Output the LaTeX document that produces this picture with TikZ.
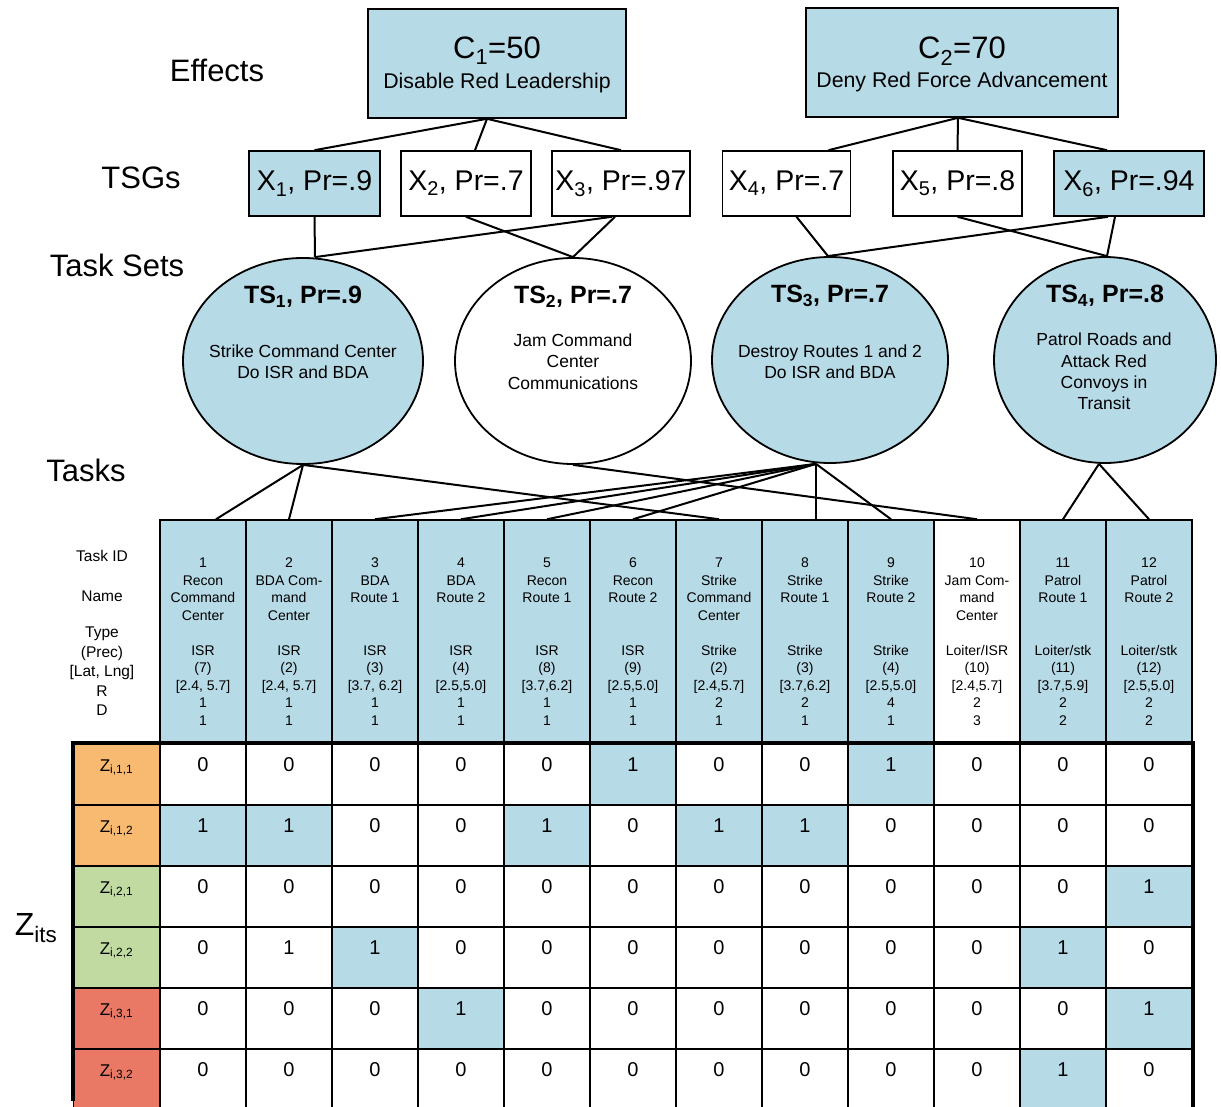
\documentclass[tikz,border=0pt]{standalone}
\usepackage{fontspec}
\setmainfont{Liberation Sans}
\usetikzlibrary{shapes.geometric,calc}

\definecolor{tblue}{RGB}{183,218,231}
\definecolor{zorange}{RGB}{247,186,112}
\definecolor{zgreen}{RGB}{193,218,162}
\definecolor{zred}{RGB}{233,121,101}

\newcommand{\fsz}[2]{\fontsize{#1}{#2}\selectfont}

% one task column of the header: index, fill, stacked text
\newcommand{\taskcol}[3]{%
  \node[taskhead, fill=#2] (T#1) at ({117+86*#1},631.5) {};
  \node[headtext] (T#1t) at ([yshift=-10pt]T#1.center) {#3};
}

% one row of the Z matrix: row index, label, label colour, k/value/fill list
\newcommand{\zrow}[4]{%
  \node[zcell, fill=#3] (zl#1) at (116.5,{774.5+61*(#1-1)}) {};
  \node[zname] (zn#1) at ([yshift=-24pt]zl#1.north) {#2};
  \foreach \k/\v/\f in {#4} {
    \node[zcell, fill=\f] (z#1-\k) at ({117+86*\k},{774.5+61*(#1-1)}) {};
    \node[zval] (zv#1-\k) at ([yshift=-21pt]z#1-\k.north) {\v};
  }
}

\begin{document}
\begin{tikzpicture}[x=1pt,y=-1pt,
  lbl/.style={font=\fsz{31}{36}, inner sep=0pt},
  effbox/.style={draw, line width=1.6pt, fill=tblue, inner sep=0pt},
  efftitle/.style={font=\fsz{31}{35}, inner sep=0pt},
  effsub/.style={font=\fsz{21.3}{25}, inner sep=0pt},
  tsgbox/.style={draw, line width=1.6pt, inner sep=0pt, minimum height=65pt},
  tsgtext/.style={font=\fsz{28.5}{32}, inner sep=0pt},
  tsell/.style={draw, ellipse, line width=1.8pt, inner sep=0pt, minimum height=206pt},
  tstitle/.style={font=\bfseries\fsz{25}{28}, inner sep=0pt},
  tsbody/.style={font=\fsz{17.5}{21.3}, align=center, inner sep=0pt},
  link/.style={line width=2pt},
  taskhead/.style={draw, line width=1.5pt, minimum width=86pt, minimum height=223pt, inner sep=0pt},
  headtext/.style={font=\fsz{14}{17.5}, align=center, inner sep=0pt},
  rowhead/.style={font=\fsz{15.5}{19}, inner sep=0pt},
  zcell/.style={draw, line width=1.5pt, minimum width=86pt, minimum height=61pt, inner sep=0pt},
  zval/.style={font=\fsz{20}{24}, inner sep=0pt},
  zname/.style={font=\fsz{17}{20}, inner sep=0pt}]

\path[use as bounding box, clip] (0,0) rectangle (1221,1107);
\fill[white] (0,0) rectangle (1221,1107);

% level labels
\node[lbl] (effects) at (217,70) {Effects};
\node[lbl] (tsgs) at (141,178) {TSGs};
\node[lbl] (tasksets) at (117,265) {Task Sets};
\node[lbl] (tasks) at (86,470) {Tasks};
\node[font=\fsz{32}{36}, inner sep=0pt] (zits) at (36,928) {Z\textsubscript{its}};

% effects
\node[effbox, minimum width=258pt, minimum height=109pt] (C1) at (497,63.5) {};
\node[efftitle] (C1a) at (497,51) {C\textsubscript{1}=50};
\node[effsub] (C1b) at (497,83) {Disable Red Leadership};
\node[effbox, minimum width=312pt, minimum height=109pt] (C2) at (962,62.5) {};
\node[efftitle] (C2a) at (962,51) {C\textsubscript{2}=70};
\node[effsub] (C2b) at (962,82) {Deny Red Force Advancement};

% task set groups
\node[tsgbox, fill=tblue, minimum width=131pt] (X1) at (314.5,183.5) {};
\node[tsgbox, fill=white, minimum width=130pt] (X2) at (466,183.5) {};
\node[tsgbox, fill=white, minimum width=138pt] (X3) at (621,183.5) {};
\node[tsgbox, fill=white, minimum width=128pt] (X4) at (786.5,183.5) {};
\node[tsgbox, fill=white, minimum width=129pt] (X5) at (957.5,183.5) {};
\node[tsgbox, fill=tblue, minimum width=150pt] (X6) at (1129,183.5) {};
\node[tsgtext] (X1t) at (X1) {X\textsubscript{1}, Pr=.9};
\node[tsgtext] (X2t) at (X2) {X\textsubscript{2}, Pr=.7};
\node[tsgtext] (X3t) at (X3) {X\textsubscript{3}, Pr=.97};
\node[tsgtext] (X4t) at (X4) {X\textsubscript{4}, Pr=.7};
\node[tsgtext] (X5t) at (X5) {X\textsubscript{5}, Pr=.8};
\node[tsgtext] (X6t) at (X6) {X\textsubscript{6}, Pr=.94};

% effects to task set groups
\draw[link] ([xshift=-10pt]C1.south) -- (X1.north);
\draw[link] ([xshift=-10pt]C1.south) -- ([xshift=9pt]X2.north);
\draw[link] ([xshift=-10pt]C1.south) -- (X3.north);
\draw[link] ([xshift=-4pt]C2.south) -- ([xshift=42pt]X4.north);
\draw[link] ([xshift=-4pt]C2.south) -- (X5.north);
\draw[link] ([xshift=-4pt]C2.south) -- ([xshift=-22pt]X6.north);

% task sets
\node[tsell, fill=tblue, minimum width=240pt] (TS1) at (303,361) {};
\node[tsell, fill=white, minimum width=236pt] (TS2) at (573,361) {};
\node[tsell, fill=tblue, minimum width=236pt] (TS3) at (830,360) {};
\node[tsell, fill=tblue, minimum width=222pt] (TS4) at (1105,360) {};
\node[tstitle] (TS1a) at (303,297) {TS\textsubscript{1}, Pr=.9};
\node[tstitle] (TS2a) at (573,297) {TS\textsubscript{2}, Pr=.7};
\node[tstitle] (TS3a) at (830,296) {TS\textsubscript{3}, Pr=.7};
\node[tstitle] (TS4a) at (1105,296) {TS\textsubscript{4}, Pr=.8};
\node[tsbody] (TS1b) at (303,362) {Strike Command Center\\Do ISR and BDA};
\node[tsbody] (TS2b) at (573,361.5) {Jam Command\\Center\\Communications};
\node[tsbody] (TS3b) at (830,361.5) {Destroy Routes 1 and 2\\Do ISR and BDA};
\node[tsbody] (TS4b) at (1104,371.5) {Patrol Roads and\\Attack Red\\Convoys in\\Transit};

% task set groups to task sets
\draw[link] (X1.south) -- ([xshift=12pt]TS1.north);
\draw[link] ([xshift=-9pt]X3.south) -- ([xshift=12pt]TS1.north);
\draw[link] (X2.south) -- (TS2.north);
\draw[link] ([xshift=-6pt]X3.south) -- (TS2.north);
\draw[link] ([xshift=10pt]X4.south) -- ([xshift=-2pt]TS3.north);
\draw[link] ([xshift=-21pt]X6.south) -- ([xshift=-2pt]TS3.north);
\draw[link] (X5.south) -- ([xshift=2pt]TS4.north);
\draw[link] ([xshift=-14pt]X6.south) -- ([xshift=2pt]TS4.north);

% task attribute labels
\node[rowhead] (hID) at (102,556) {Task ID};
\node[rowhead] (hName) at (102,596) {Name};
\node[rowhead] (hType) at (102,634) {Type};
\node[rowhead] (hPrec) at (102,653) {(Prec)};
\node[rowhead] (hLoc) at (102,672) {[Lat, Lng]};
\node[rowhead] (hR) at (102,691) {R};
\node[rowhead] (hD) at (102,710) {D};

% task header columns
\taskcol{1}{tblue}{1\\Recon\\Command\\Center\\\mbox{}\\ISR\\(7)\\{[2.4, 5.7]}\\1\\1}
\taskcol{2}{tblue}{2\\BDA Com-\\mand\\Center\\\mbox{}\\ISR\\(2)\\{[2.4, 5.7]}\\1\\1}
\taskcol{3}{tblue}{3\\BDA\\Route 1\\\mbox{}\\\mbox{}\\ISR\\(3)\\{[3.7, 6.2]}\\1\\1}
\taskcol{4}{tblue}{4\\BDA\\Route 2\\\mbox{}\\\mbox{}\\ISR\\(4)\\{[2.5,5.0]}\\1\\1}
\taskcol{5}{tblue}{5\\Recon\\Route 1\\\mbox{}\\\mbox{}\\ISR\\(8)\\{[3.7,6.2]}\\1\\1}
\taskcol{6}{tblue}{6\\Recon\\Route 2\\\mbox{}\\\mbox{}\\ISR\\(9)\\{[2.5,5.0]}\\1\\1}
\taskcol{7}{tblue}{7\\Strike\\Command\\Center\\\mbox{}\\Strike\\(2)\\{[2.4,5.7]}\\2\\1}
\taskcol{8}{tblue}{8\\Strike\\Route 1\\\mbox{}\\\mbox{}\\Strike\\(3)\\{[3.7,6.2]}\\2\\1}
\taskcol{9}{tblue}{9\\Strike\\Route 2\\\mbox{}\\\mbox{}\\Strike\\(4)\\{[2.5,5.0]}\\4\\1}
\taskcol{10}{white}{10\\Jam Com-\\mand\\Center\\\mbox{}\\Loiter/ISR\\(10)\\{[2.4,5.7]}\\2\\3}
\taskcol{11}{tblue}{11\\Patrol\\Route 1\\\mbox{}\\\mbox{}\\Loiter/stk\\(11)\\{[3.7,5.9]}\\2\\2}
\taskcol{12}{tblue}{12\\Patrol\\Route 2\\\mbox{}\\\mbox{}\\Loiter/stk\\(12)\\{[2.5,5.0]}\\2\\2}

% task sets to tasks
\draw[link] (TS1.south) -- ([xshift=13pt]T1.north);
\draw[link] (TS1.south) -- (T2.north);
\draw[link] (TS1.south) -- (T7.north);
\draw[link] (TS2.south) -- (T10.north);
\draw[link] ([xshift=-14pt]TS3.south) -- (T3.north);
\draw[link] ([xshift=-14pt]TS3.south) -- (T4.north);
\draw[link] ([xshift=-14pt]TS3.south) -- (T5.north);
\draw[link] ([xshift=-14pt]TS3.south) -- (T6.north);
\draw[link] ([xshift=-14pt]TS3.south) -- ([xshift=11pt]T8.north);
\draw[link] ([xshift=-14pt]TS3.south) -- (T9.north);
\draw[link] ([xshift=-6pt]TS4.south) -- (T11.north);
\draw[link] ([xshift=-6pt]TS4.south) -- (T12.north);

% assignment matrix
\zrow{1}{Z\textsubscript{i,1,1}}{zorange}{1/0/white,2/0/white,3/0/white,4/0/white,5/0/white,6/1/tblue,7/0/white,8/0/white,9/1/tblue,10/0/white,11/0/white,12/0/white}
\zrow{2}{Z\textsubscript{i,1,2}}{zorange}{1/1/tblue,2/1/tblue,3/0/white,4/0/white,5/1/tblue,6/0/white,7/1/tblue,8/1/tblue,9/0/white,10/0/white,11/0/white,12/0/white}
\zrow{3}{Z\textsubscript{i,2,1}}{zgreen}{1/0/white,2/0/white,3/0/white,4/0/white,5/0/white,6/0/white,7/0/white,8/0/white,9/0/white,10/0/white,11/0/white,12/1/tblue}
\zrow{4}{Z\textsubscript{i,2,2}}{zgreen}{1/0/white,2/1/white,3/1/tblue,4/0/white,5/0/white,6/0/white,7/0/white,8/0/white,9/0/white,10/0/white,11/1/tblue,12/0/white}
\zrow{5}{Z\textsubscript{i,3,1}}{zred}{1/0/white,2/0/white,3/0/white,4/1/tblue,5/0/white,6/0/white,7/0/white,8/0/white,9/0/white,10/0/white,11/0/white,12/1/tblue}
\zrow{6}{Z\textsubscript{i,3,2}}{zred}{1/0/white,2/0/white,3/0/white,4/0/white,5/0/white,6/0/white,7/0/white,8/0/white,9/0/white,10/0/white,11/1/tblue,12/0/white}

% heavy frame round the matrix
\draw[line width=4pt] (zl6.south west) ++(0,-10) -- (zl1.north west) -- (z1-12.north east) -- ($(z6-12.south east)+(0,10)$);

\end{tikzpicture}
\end{document}
